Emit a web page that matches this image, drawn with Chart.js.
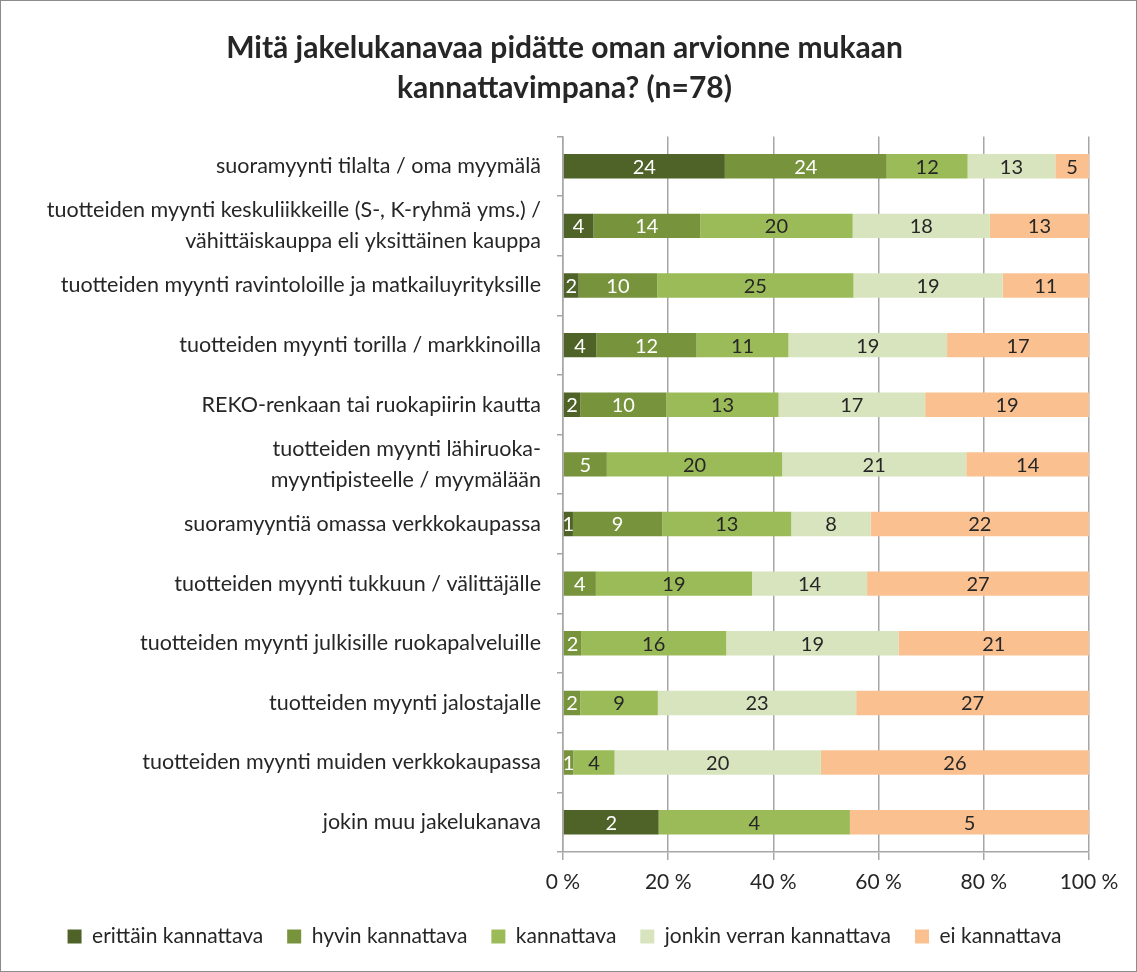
<!DOCTYPE html>
<html>
<head>
<meta charset="utf-8">
<script src="https://cdn.jsdelivr.net/npm/chart.js@4"></script>
<style>
  html, body { margin: 0; padding: 0; background: #fff; }
  #wrap { width: 1137px; height: 972px; }
</style>
</head>
<body>
<div id="wrap"><canvas id="stackedBarChart" width="1137" height="972"></canvas></div>
<script>
// categories (top to bottom)
var categories = [
    'suoramyynti tilalta / oma myymälä',
    ['tuotteiden myynti keskuliikkeille (S-, K-ryhmä yms.) /', 'vähittäiskauppa eli yksittäinen kauppa'],
    'tuotteiden myynti ravintoloille ja matkailuyrityksille',
    'tuotteiden myynti torilla / markkinoilla',
    'REKO-renkaan tai ruokapiirin kautta',
    ['tuotteiden myynti lähiruoka-', 'myyntipisteelle / myymälään'],
    'suoramyyntiä omassa verkkokaupassa',
    'tuotteiden myynti tukkuun / välittäjälle',
    'tuotteiden myynti julkisille ruokapalveluille',
    'tuotteiden myynti jalostajalle',
    'tuotteiden myynti muiden verkkokaupassa',
    'jokin muu jakelukanava'
];

// answer counts per series
var erittain = [24, 4, 2, 4, 2, 0, 1, 0, 0, 0, 0, 2];
var hyvin    = [24, 14, 10, 12, 10, 5, 9, 4, 2, 2, 1, 0];
var kannattava = [12, 20, 25, 11, 13, 20, 13, 19, 16, 9, 4, 4];
var jonkin   = [13, 18, 19, 19, 17, 21, 8, 14, 19, 23, 20, 0];
var ei       = [5, 13, 11, 17, 19, 14, 22, 27, 21, 27, 26, 5];

var xTicks = ['0 %', '20 %', '40 %', '60 %', '80 %', '100 %'];

var series = [
    { label: 'erittäin kannattava', counts: erittain, color: '#4F6228', text: '#ffffff' },
    { label: 'hyvin kannattava', counts: hyvin, color: '#77933C', text: '#ffffff' },
    { label: 'kannattava', counts: kannattava, color: '#9BBB59', text: '#262626' },
    { label: 'jonkin verran kannattava', counts: jonkin, color: '#D7E4BD', text: '#262626' },
    { label: 'ei kannattava', counts: ei, color: '#FAC090', text: '#262626' }
];

var totals = categories.map(function (c, i) {
    return series.reduce(function (s, d) { return s + d.counts[i]; }, 0);
});

// writes the count in the middle of each segment
var valueLabels = {
    id: 'valueLabels',
    afterDatasetsDraw: function (chart) {
        var ctx = chart.ctx;
        ctx.save();
        ctx.font = '20px Lato';
        ctx.textAlign = 'center';
        ctx.textBaseline = 'middle';
        chart.data.datasets.forEach(function (ds, di) {
            var meta = chart.getDatasetMeta(di);
            meta.data.forEach(function (bar, i) {
                var n = series[di].counts[i];
                if (!n) return;
                ctx.fillStyle = series[di].text;
                ctx.fillText(String(n), (bar.x + bar.base) / 2, bar.y + 1);
            });
        });
        ctx.restore();
    }
};

// thin grey frame around the whole chart
var frame = {
    id: 'frame',
    afterDraw: function (chart) {
        var ctx = chart.ctx;
        ctx.save();
        ctx.strokeStyle = '#8c8c8c';
        ctx.lineWidth = 1;
        ctx.strokeRect(0.5, 0.5, chart.width - 1, chart.height - 1);
        ctx.restore();
    }
};

document.addEventListener("DOMContentLoaded", function () {
    var ctx = document.getElementById('stackedBarChart').getContext('2d');
    var chart = new Chart(ctx, {
        type: 'bar',
        data: {
            labels: categories,
            datasets: series.map(function (s) {
                return {
                    label: s.label,
                    backgroundColor: s.color,
                    borderWidth: 0,
                    categoryPercentage: 0.41,
                    barPercentage: 1,
                    data: s.counts.map(function (v, i) { return v / totals[i] * 100; })
                };
            })
        },
        options: {
            indexAxis: 'y',
            responsive: false,
            animation: false,
            devicePixelRatio: 1,
            layout: { padding: { left: 40, right: 48, top: 12, bottom: 15 } },
            scales: {
                x: {
                    stacked: true,
                    min: 0,
                    max: 100,
                    ticks: {
                        stepSize: 20,
                        color: '#262626',
                        font: { family: 'Lato', size: 21 },
                        padding: 10,
                        callback: function (v) { return xTicks[v / 20]; }
                    },
                    grid: { color: '#A6A6A6', lineWidth: 1.5, tickLength: 8 },
                    border: { color: '#A6A6A6', width: 1.5 },
                    afterFit: function (scale) { scale.height = 50; }
                },
                y: {
                    stacked: true,
                    ticks: {
                        autoSkip: false,
                        color: '#262626',
                        font: { family: 'Lato', size: 21.5, lineHeight: 1.45 },
                        padding: 16
                    },
                    grid: { drawOnChartArea: false, color: '#A6A6A6', lineWidth: 1.5, tickLength: 6, offset: true },
                    border: { color: '#A6A6A6', width: 1.5 },
                    afterFit: function (scale) { scale.width = 523; }
                }
            },
            plugins: {
                title: {
                    display: true,
                    text: ['Mitä jakelukanavaa pidätte oman arvionne mukaan', 'kannattavimpana? (n=78)'],
                    color: '#262626',
                    font: { family: 'Lato', size: 30, weight: 'bold', lineHeight: 1.34 },
                    padding: { top: 16, bottom: 28 }
                },
                legend: {
                    position: 'bottom',
                    labels: {
                        color: '#262626',
                        font: { family: 'Lato', size: 21 },
                        boxWidth: 14,
                        boxHeight: 14,
                        padding: 24
                    }
                },
                tooltip: { enabled: false }
            }
        },
        plugins: [valueLabels, frame]
    });
});
</script>
</body>
</html>
